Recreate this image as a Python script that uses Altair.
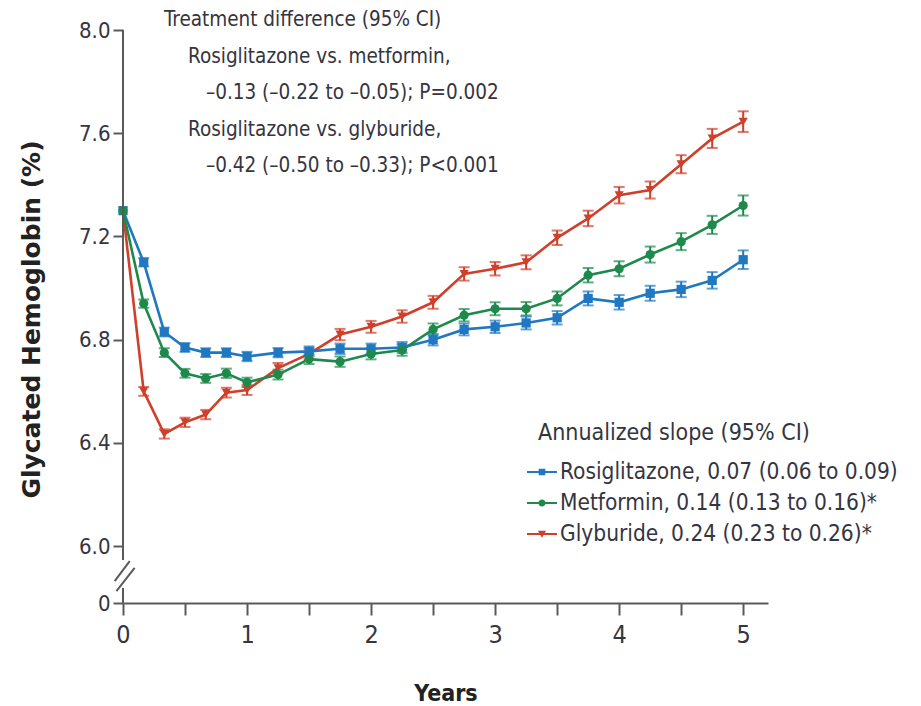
import altair as alt
import pandas as pd

# ---------------- data ----------------
years = [0, 0.167, 0.333, 0.5, 0.667, 0.833, 1.0, 1.25, 1.5, 1.75, 2.0, 2.25,
         2.5, 2.75, 3.0, 3.25, 3.5, 3.75, 4.0, 4.25, 4.5, 4.75, 5.0]

rosiglitazone = [7.30, 7.10, 6.83, 6.77, 6.75, 6.75, 6.735, 6.75, 6.755, 6.765, 6.765, 6.77,
                 6.80, 6.84, 6.85, 6.865, 6.885, 6.96, 6.945, 6.98, 6.995, 7.03, 7.11]
metformin = [7.30, 6.94, 6.75, 6.67, 6.65, 6.67, 6.635, 6.665, 6.725, 6.715, 6.745, 6.76,
             6.84, 6.895, 6.92, 6.92, 6.96, 7.05, 7.075, 7.13, 7.18, 7.245, 7.32]
glyburide = [7.30, 6.60, 6.435, 6.48, 6.51, 6.595, 6.605, 6.69, 6.745, 6.82, 6.85, 6.89,
             6.945, 7.055, 7.075, 7.10, 7.195, 7.27, 7.36, 7.38, 7.48, 7.58, 7.645]

rosiglitazone_err = [0, 0.016, 0.017, 0.017, 0.017, 0.017, 0.018, 0.018, 0.019, 0.020, 0.020, 0.021,
                     0.022, 0.023, 0.024, 0.025, 0.026, 0.027, 0.028, 0.029, 0.030, 0.032, 0.036]
metformin_err = [0, 0.016, 0.017, 0.017, 0.017, 0.018, 0.018, 0.019, 0.019, 0.020, 0.021, 0.022,
                 0.023, 0.024, 0.025, 0.026, 0.027, 0.028, 0.029, 0.031, 0.033, 0.035, 0.039]
glyburide_err = [0, 0.017, 0.018, 0.018, 0.018, 0.019, 0.019, 0.020, 0.021, 0.022, 0.023, 0.024,
                 0.025, 0.026, 0.026, 0.027, 0.028, 0.030, 0.032, 0.033, 0.035, 0.037, 0.040]

series_names = ["Rosiglitazone", "Metformin", "Glyburide"]
series_colors = ["#1f78c1", "#1d8a4c", "#cf3f2a"]
series_shapes = ["square", "circle", "triangle-down"]
slope_labels = ["Rosiglitazone, 0.07 (0.06 to 0.09)",
                "Metformin, 0.14 (0.13 to 0.16)*",
                "Glyburide, 0.24 (0.23 to 0.26)*"]
legend_title = "Annualized slope (95% CI)"

annotation_lines = ["Treatment difference (95% CI)",
                    "Rosiglitazone vs. metformin,",
                    "\u20130.13 (\u20130.22 to \u20130.05); P=0.002",
                    "Rosiglitazone vs. glyburide,",
                    "\u20130.42 (\u20130.50 to \u20130.33); P<0.001"]

y_tick_values = [5.78, 6.0, 6.4, 6.8, 7.2, 7.6, 8.0]
x_tick_values = [0, 0.5, 1, 1.5, 2, 2.5, 3, 3.5, 4, 4.5, 5]

# ---------------- frame ----------------
rows = []
draw_order = [("Glyburide", glyburide, glyburide_err),
              ("Rosiglitazone", rosiglitazone, rosiglitazone_err),
              ("Metformin", metformin, metformin_err)]
for name, vals, errs in draw_order:
    for t, v, e in zip(years, vals, errs):
        rows.append({"t": t, "value": v, "lo": v - e, "hi": v + e, "err": e, "series": name})
df = pd.DataFrame(rows)
one = pd.DataFrame({"d": [0]})

NARROW = "DejaVu Sans Condensed"
TXT = "#353540"
AX = "#5a5a5a"
W, H = 645, 573

xscale = alt.Scale(domain=[0, 5.2], nice=False, zero=False)
yscale = alt.Scale(domain=[5.78, 8.0], nice=False, zero=False)

x_enc = alt.X("t:Q", scale=xscale, axis=alt.Axis(
    values=x_tick_values,
    labelExpr="datum.value % 1 === 0 ? format(datum.value, 'd') : ''",
    title="Years", titleFont=NARROW, titleFontSize=23, titleFontWeight="bold",
    titleColor="#222", titleBaseline="alphabetic", titleY=97,
    labelFont=NARROW, labelFontSize=25, labelColor=TXT, labelPadding=7,
    domainColor=AX, domainWidth=2, tickColor=AX, tickWidth=2, tickSize=12,
    grid=False, labelFlush=False))

y_enc = alt.Y("value:Q", scale=yscale, axis=alt.Axis(
    values=y_tick_values,
    labelExpr="datum.value < 5.9 ? '0' : format(datum.value, '.1f')",
    title="Glycated Hemoglobin (%)", titleFont="DejaVu Sans", titleFontSize=25,
    titleFontWeight="bold", titleColor="#222", titleAngle=-90,
    titleAlign="center", titleBaseline="alphabetic", titleX=-84, titleY=289,
    labelFont=NARROW, labelFontSize=22, labelColor=TXT, labelPadding=3,
    domain=False, tickColor=AX, tickWidth=2, tickSize=10, grid=False))

color_main = alt.Color("series:N", scale=alt.Scale(domain=series_names, range=series_colors), legend=None)
shape_main = alt.Shape("series:N", scale=alt.Scale(domain=series_names, range=series_shapes), legend=None)

base = alt.Chart(df)
lines = base.mark_line(strokeWidth=2.6).encode(x=x_enc, y=y_enc, color=color_main, detail="series:N")
bars = base.transform_filter("datum.err > 0").mark_rule(strokeWidth=2).encode(
    x="t:Q", y="lo:Q", y2="hi:Q", color=color_main)
caps_lo = base.transform_filter("datum.err > 0").mark_tick(orient="horizontal", size=11, thickness=2).encode(
    x="t:Q", y="lo:Q", color=color_main)
caps_hi = base.transform_filter("datum.err > 0").mark_tick(orient="horizontal", size=11, thickness=2).encode(
    x="t:Q", y="hi:Q", color=color_main)
points = base.mark_point(filled=True, opacity=1, size=85).encode(
    x="t:Q", y="value:Q", color=color_main, shape=shape_main)

# legend (library legend, symbols = short line with marker)
legend_paths = [
    "M-1,-0.06H1V0.06H-1Z M-0.22,-0.22H0.22V0.22H-0.22Z",
    "M-1,-0.06H1V0.06H-1Z M-0.24,0A0.24,0.24 0 1,1 0.24,0A0.24,0.24 0 1,1 -0.24,0Z",
    "M-1,-0.06H1V0.06H-1Z M-0.27,-0.22L0.27,-0.22L0,0.25Z",
]
label_expr = " : ".join(
    [f"datum.label === '{n}' ? '{l}'" for n, l in zip(series_names, slope_labels)]) + " : datum.label"
leg = dict(title=None, orient="none", legendX=404, legendY=427, symbolSize=900,
           symbolStrokeWidth=0, labelExpr=label_expr, labelFont=NARROW, labelFontSize=22.5,
           labelColor=TXT, labelOffset=3, labelLimit=600, rowPadding=4, padding=0)
legend_layer = base.transform_filter("false").mark_point(filled=True, opacity=1).encode(
    x="t:Q", y="value:Q",
    color=alt.Color("series:N", scale=alt.Scale(domain=series_names, range=series_colors), legend=alt.Legend(**leg)),
    shape=alt.Shape("series:N", scale=alt.Scale(domain=series_names, range=legend_paths), legend=alt.Legend(**leg)))

# annotation text
ann_pos = [(41, -10), (65, 27), (83, 63), (65, 100), (83, 136)]
texts = []
for line, (px, py) in zip(annotation_lines, ann_pos):
    texts.append(alt.Chart(one).mark_text(text=line, align="left", baseline="middle", font=NARROW,
                                          fontSize=20.5, color=TXT).encode(x=alt.value(px), y=alt.value(py)))
texts.append(alt.Chart(one).mark_text(text=legend_title, align="left", baseline="middle", font=NARROW,
                                      fontSize=23, color=TXT).encode(x=alt.value(415), y=alt.value(403)))

# broken y-axis line and break marks
axis_upper = alt.Chart(one).mark_rule(color=AX, strokeWidth=2).encode(
    x=alt.datum(0), y=alt.datum(8.0), y2=alt.datum(5.947))
axis_lower = alt.Chart(one).mark_rule(color=AX, strokeWidth=2).encode(
    x=alt.datum(0), y=alt.datum(5.838), y2=alt.datum(5.78))
slash1 = alt.Chart(one).mark_rule(color=AX, strokeWidth=2).encode(
    x=alt.datum(-0.067), x2=alt.datum(0.054), y=alt.datum(5.865), y2=alt.datum(5.942))
slash2 = alt.Chart(one).mark_rule(color=AX, strokeWidth=2).encode(
    x=alt.datum(-0.053), x2=alt.datum(0.094), y=alt.datum(5.826), y2=alt.datum(5.916))

chart = alt.layer(lines, bars, caps_lo, caps_hi, points, legend_layer,
                  axis_upper, axis_lower, slash1, slash2, *texts).resolve_scale(
    color="independent", shape="independent"
).properties(
    width=W, height=H,
    autosize=alt.AutoSizeParams(type="none"),
    padding={"left": 123, "top": 30, "right": 153, "bottom": 103},
    background="white",
).configure_view(stroke=None)

chart.save("out.html", embed_options={"renderer": "svg", "actions": False})
